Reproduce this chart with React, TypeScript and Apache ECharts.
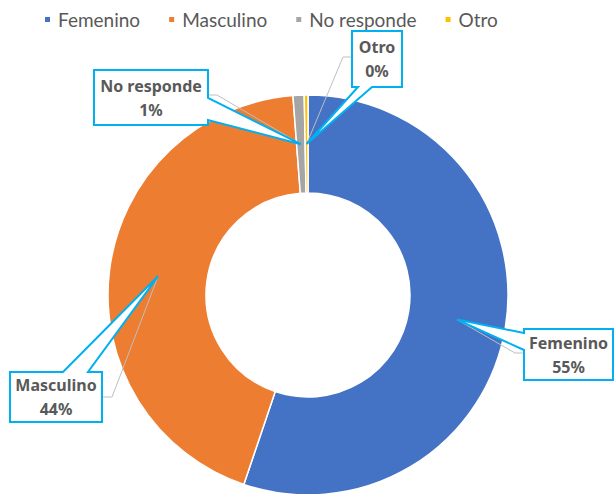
import React, { useEffect, useRef } from 'react';
import * as echarts from 'echarts';

// ---- data ----
const categories = ['Femenino', 'Masculino', 'No responde', 'Otro'];
const values = [55.2, 43.6, 0.9, 0.3];
const colors = ['#4472C4', '#ED7D31', '#A5A5A5', '#FFC000'];

// ---- layout (positions / styles) ----
const CENTER = [308, 295];
const RADIUS = [102, 200];
const CYAN = '#00B0F0';
const TEXT = '#595959';
const FONT = '"Noto Sans", "Open Sans", sans-serif';
const LEGEND_FONT = 'Lato, "Noto Sans", sans-serif';

type Callout = {
  box: number[]; // left, top, right, bottom
  edge: 'left' | 'right' | 'top' | 'bottom';
  base: number[];
  elbow: number[];
  end: number[];
};

const CALLOUTS: Callout[] = [
  { box: [524, 329, 613, 380], edge: 'left', base: [333, 350], elbow: [515, 353], end: [524, 353] },
  { box: [10, 372, 102, 422], edge: 'top', base: [63, 88], elbow: [112, 397], end: [102, 397] },
  { box: [94, 70, 208, 125], edge: 'right', base: [98, 120], elbow: [217, 95], end: [208, 95] },
  { box: [352, 31, 402, 87], edge: 'bottom', base: [358, 372], elbow: [343, 57], end: [352, 57] },
];

function calloutPoints(c: Callout, tip: number[]) {
  const [L, T, R, B] = c.box;
  const [a, b] = c.base;
  switch (c.edge) {
    case 'left':
      return [[L, T], [R, T], [R, B], [L, B], [L, b], tip, [L, a]];
    case 'right':
      return [[L, T], [R, T], [R, a], tip, [R, b], [R, B], [L, B]];
    case 'top':
      return [[L, T], [a, T], tip, [b, T], [R, T], [R, B], [L, B]];
    default:
      return [[L, T], [R, T], [R, B], [b, B], tip, [a, B], [L, B]];
  }
}

export default function App() {
  const ref = useRef<HTMLDivElement>(null);

  useEffect(() => {
    if (!ref.current) return;
    const chart = echarts.init(ref.current, null, { renderer: 'svg' });
    chart.setOption({
      animation: false,
      color: colors,
      legend: {
        data: categories,
        top: 5,
        left: 38,
        icon: 'rect',
        itemWidth: 7,
        itemHeight: 7,
        itemGap: 27,
        selectedMode: false,
        textStyle: { fontSize: 19, color: TEXT, fontFamily: LEGEND_FONT, padding: [0, 0, 0, 2] },
      },
      series: [
        {
          type: 'pie',
          center: CENTER,
          radius: RADIUS,
          startAngle: 90,
          clockwise: true,
          silent: true,
          label: { show: false },
          labelLine: { show: false },
          itemStyle: { borderColor: '#ffffff', borderWidth: 1.5 },
          emphasis: { disabled: true },
          data: categories.map((n, i) => ({ name: n, value: values[i] })),
        },
      ],
    });

    const data = (chart as any).getModel().getSeriesByIndex(0).getData();
    const total = values.reduce((s, v) => s + v, 0);
    const graphics: any[] = [];
    categories.forEach((name, i) => {
      const lay = data.getItemLayout(i);
      const mid = (lay.startAngle + lay.endAngle) / 2;
      const rm = (lay.r + lay.r0) / 2;
      const tip = [lay.cx + rm * Math.cos(mid), lay.cy + rm * Math.sin(mid)];
      const c = CALLOUTS[i];
      const pct = Math.round((values[i] / total) * 100);
      graphics.push({
        type: 'polyline',
        z: 50,
        silent: true,
        shape: { points: [tip, c.elbow, c.end] },
        style: { stroke: '#BFBFBF', lineWidth: 1, fill: null },
      });
      graphics.push({
        type: 'polygon',
        z: 60,
        silent: true,
        shape: { points: calloutPoints(c, tip) },
        style: { fill: '#ffffff', stroke: CYAN, lineWidth: 2 },
      });
      graphics.push({
        type: 'text',
        z: 61,
        silent: true,
        x: (c.box[0] + c.box[2]) / 2,
        y: (c.box[1] + c.box[3]) / 2,
        style: {
          text: name + '\n' + pct + '%',
          fill: TEXT,
          fontSize: 16,
          fontWeight: 'bold',
          fontFamily: FONT,
          lineHeight: 24,
          align: 'center',
          verticalAlign: 'middle',
        },
      });
    });
    chart.setOption({ graphic: graphics });

    return () => chart.dispose();
  }, []);

  return (
    <div
      ref={ref}
      style={{ position: 'fixed', left: 0, top: 0, width: 615, height: 494, background: '#ffffff' }}
    />
  );
}
